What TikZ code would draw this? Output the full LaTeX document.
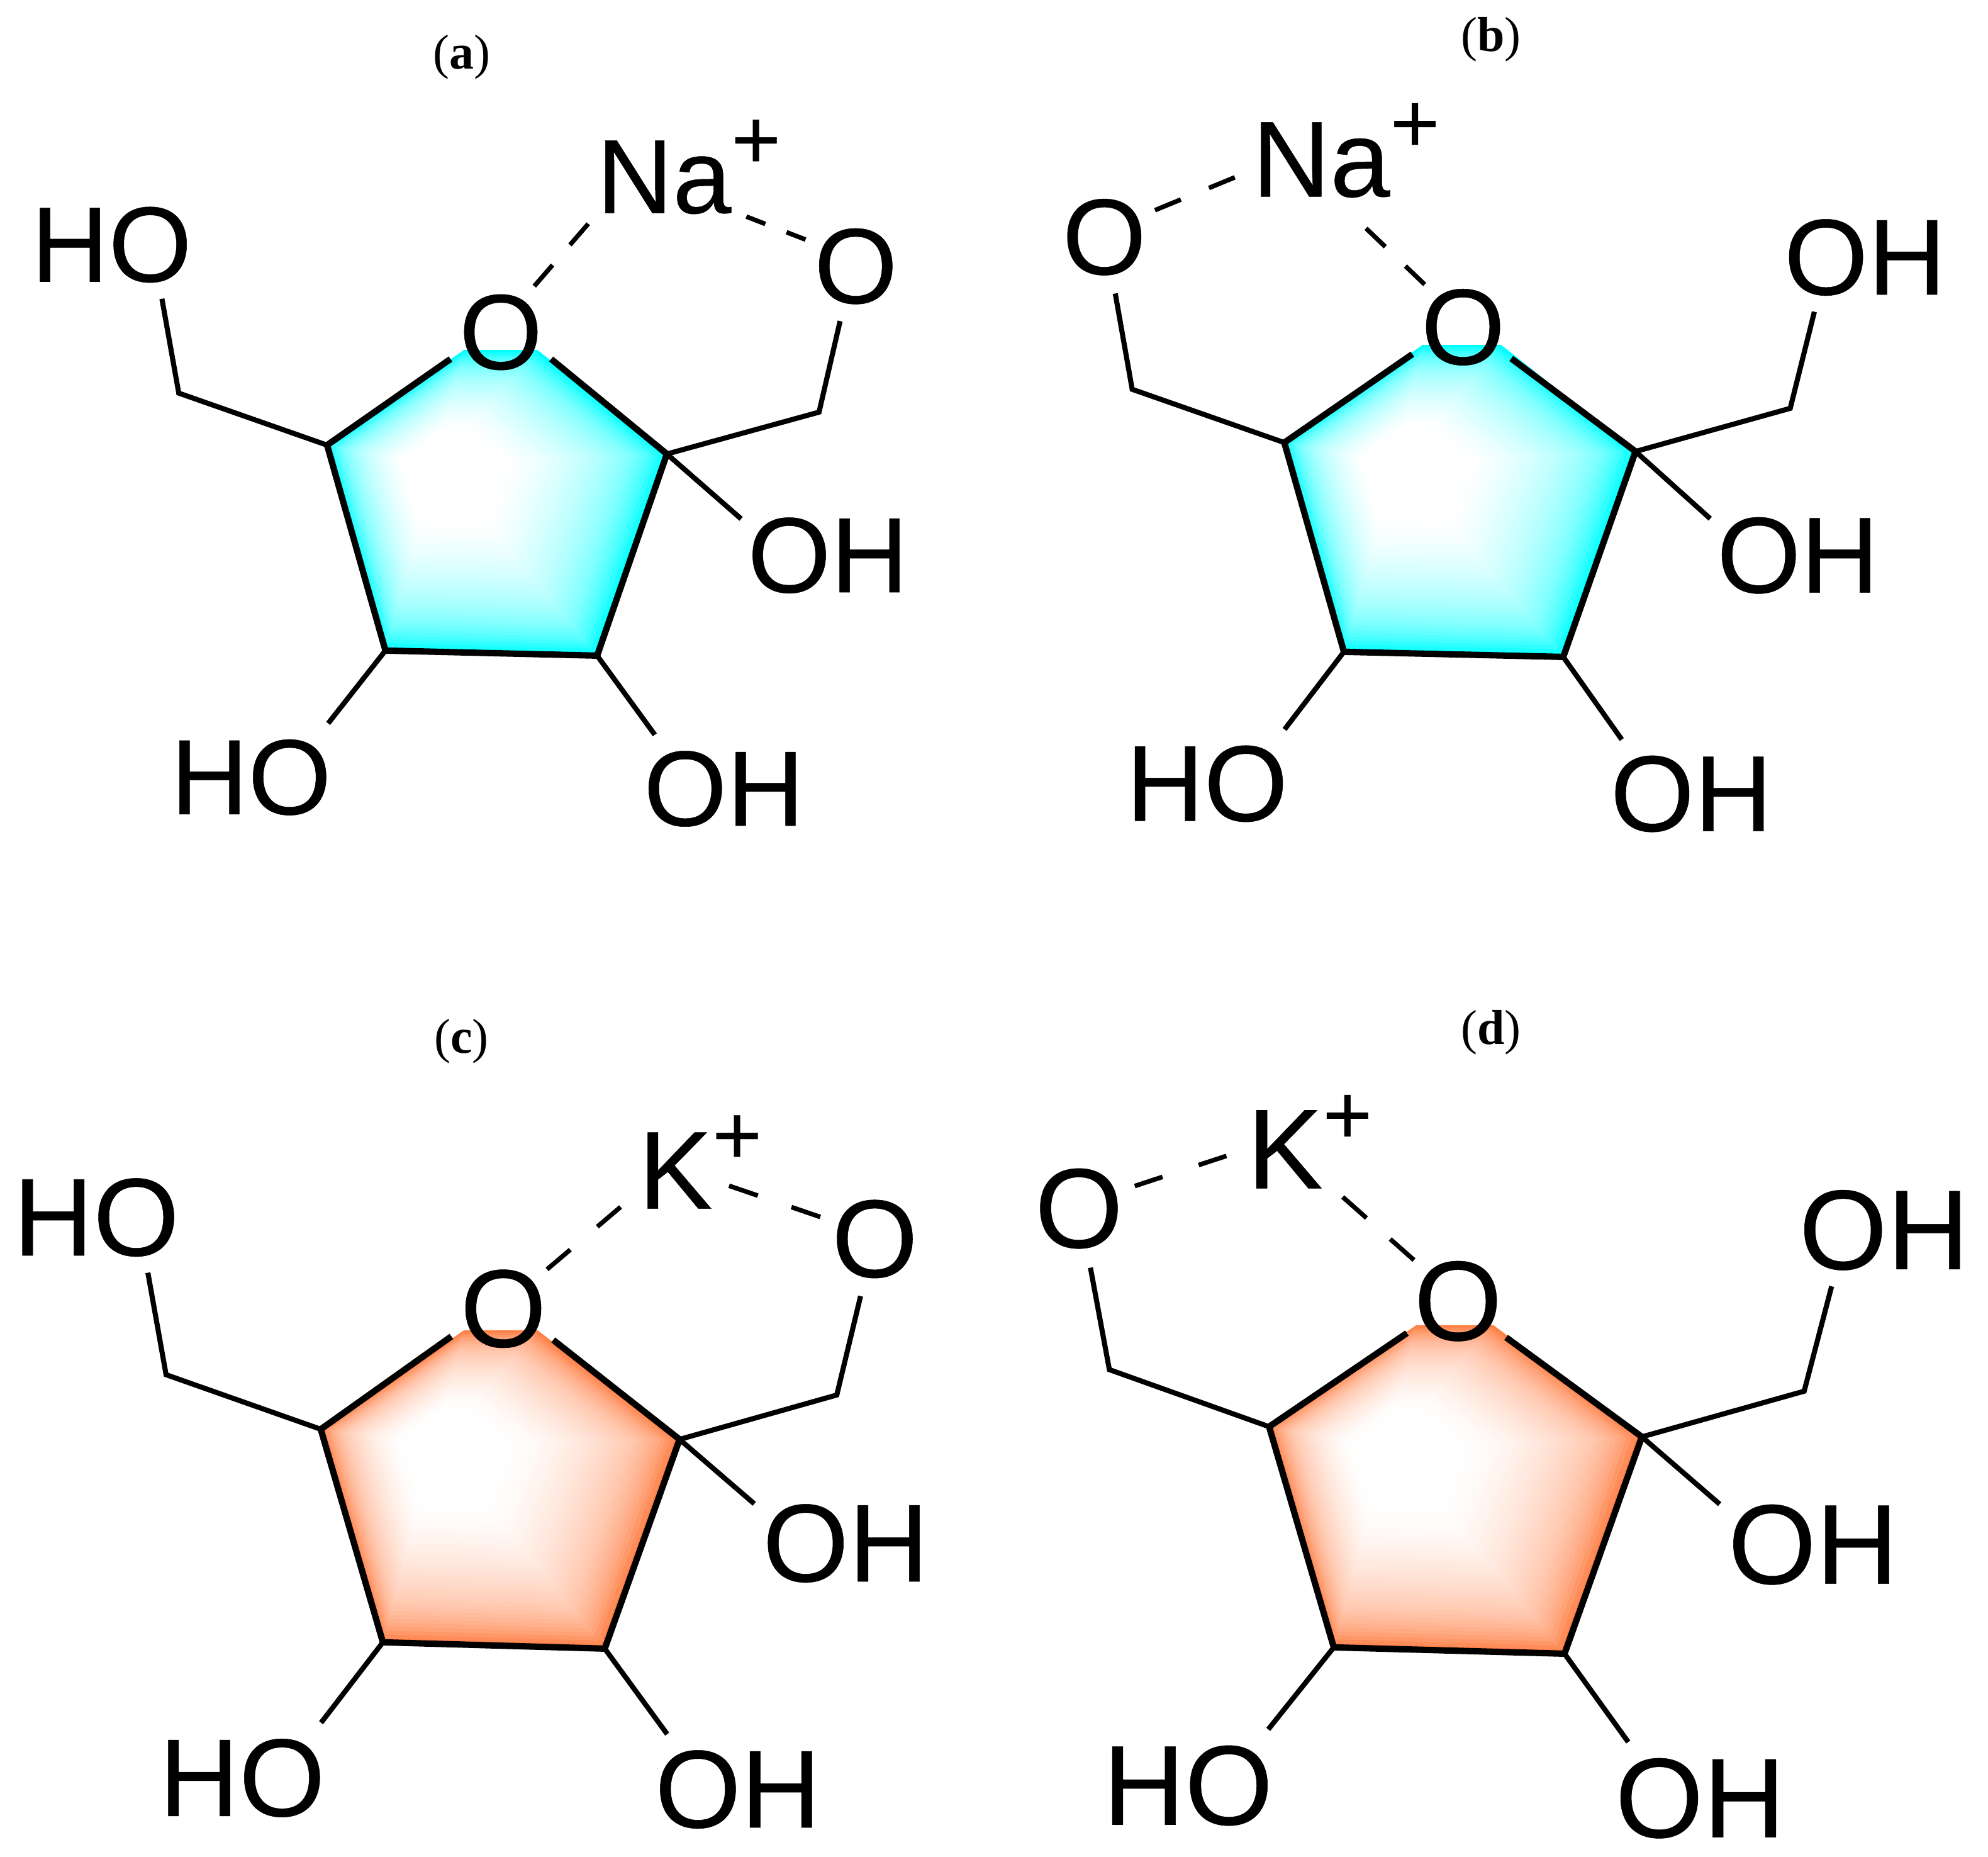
\documentclass[tikz,border=0pt]{standalone}
\usepackage{fontspec}
\setmainfont[FakeBold=.3]{Liberation Sans}
\newfontfamily\capfont{Liberation Serif}
\definecolor{glowcyan}{RGB}{0,255,255}
\definecolor{gloworange}{RGB}{255,128,70}
\newcommand{\ionplus}{\raisebox{.35cm}{\fontsize{19}{19}\selectfont +}}
\newcommand{\ringglow}[4]{
  \foreach \i in {0,...,35}{
    \pgfmathsetmacro{\s}{1-\i*.02}
    \pgfmathsetmacro{\t}{max(1-\i/35,0)}
    \pgfmathsetmacro{\p}{64*\t*\t^.5+36*\t*\t*\t*\t*\t*\t*\t*\t}
    \begin{scope}[shift={(#2,#3)},scale=\s,shift={(-#2,-#3)}]
      \fill[#1!\p!white] #4;
    \end{scope}
  }
}
\tikzset{
  lab/.style={font=\fontsize{#1}{#1}\selectfont,inner sep=.12cm},
  oxy/.style={font=\fontsize{#1}{#1}\selectfont,circle,inner sep=0pt,minimum size=.88cm},
  ion/.style={font=\fontsize{#1}{#1}\selectfont,inner sep=0pt,anchor=base west},
  panelcap/.style={font=\capfont\fontsize{11}{11}\selectfont},
  ringbond/.style={line width=.05cm,line join=miter},
  sidebond/.style={line width=.04cm,line join=miter},
  hbond/.style 2 args={line width=.036cm,dash pattern=on #1cm off #2cm}
}
\begin{document}
\begin{tikzpicture}[x=.01cm,y=-.01cm]
  \useasboundingbox (0,0) rectangle (1568,1464);
  \ringglow{glowcyan}{344}{368}{(258,351) -- (366,276) -- (424,276) -- (526,358) -- (471,517) -- (304,513) -- cycle}
  \ringglow{glowcyan}{1102}{366}{(1013,349) -- (1122,272) -- (1184,272) -- (1290,356) -- (1233,518) -- (1060,514) -- cycle}
  \ringglow{gloworange}{344}{1139}{(253,1127) -- (366,1049) -- (424,1049) -- (536,1135) -- (477,1300) -- (302,1295) -- cycle}
  \ringglow{gloworange}{1095}{1142}{(1001,1125) -- (1117,1045) -- (1178,1045) -- (1295,1133) -- (1234,1304) -- (1052,1299) -- cycle}

  \node[panelcap] (capa) at (364,45) {(\textbf{a})};
  \node[panelcap] (capb) at (1176,31) {(\textbf{b})};
  \node[panelcap] (capc) at (364,821) {(\textbf{c})};
  \node[panelcap] (capd) at (1176,814) {(\textbf{d})};

  \coordinate (a1) at (258,351);
  \coordinate (a2) at (526,358);
  \coordinate (a3) at (471,517);
  \coordinate (a4) at (304,513);
  \coordinate (a5) at (141,310);
  \coordinate (a6) at (646,325);
  \node[oxy=24] (ringa) at (395,262) {O};
  \node[oxy=24] (oa) at (675,210) {O};
  \node[ion=23.6] (naa) at (470,168) {Na\ionplus};
  \node[lab=24] (hoa1) at (88,193) {HO};
  \node[lab=24] (oha2) at (653,438) {OH};
  \node[lab=24] (hoa3) at (198,613) {HO};
  \node[lab=24] (oha4) at (571,622) {OH};
  \draw[ringbond] (ringa.-152) -- (a1) -- (a4) -- (a3) -- (a2) -- (ringa.-28);
  \draw[sidebond] (a1) -- (a5) -- (hoa1.-47);
  \draw[sidebond] (a2) -- (a6) -- (oa.-106);
  \draw[sidebond,shorten >=-.1cm] (a2) -- (oha2.155);
  \draw[sidebond] (a4) -- (hoa3.35);
  \draw[sidebond] (a3) -- (oha4.142);
  \draw[hbond={.22}{.21}] (ringa.54) -- (naa.south west);
  \draw[hbond={.16}{.18}] (oa.152) -- (naa.-42);

  \coordinate (b1) at (1013,349);
  \coordinate (b2) at (1290,356);
  \coordinate (b3) at (1233,518);
  \coordinate (b4) at (1060,514);
  \coordinate (b5) at (893,307);
  \coordinate (b6) at (1412,322);
  \node[oxy=24.2] (ringb) at (1154,258) {O};
  \node[oxy=24.2] (ob) at (871,187) {O};
  \node[ion=24.2] (nab) at (987,155) {Na\ionplus};
  \node[lab=24.2] (ohb1) at (1471,203) {OH};
  \node[lab=24.2] (ohb2) at (1418,438) {OH};
  \node[lab=24.2] (hob3) at (952,618) {HO};
  \node[lab=24.2] (ohb4) at (1334,626) {OH};
  \draw[ringbond] (ringb.-152) -- (b1) -- (b4) -- (b3) -- (b2) -- (ringb.-33);
  \draw[sidebond] (b1) -- (b5) -- (ob.-79);
  \draw[sidebond] (b2) -- (b6) -- (ohb1.-133);
  \draw[sidebond,shorten >=-.1cm] (b2) -- (ohb2.155);
  \draw[sidebond] (b4) -- (hob3.35);
  \draw[sidebond] (b3) -- (ohb4.142);
  \draw[hbond={.22}{.24}] (ob.28) -- (nab.192);
  \draw[hbond={.21}{.22},shorten >=.15cm] (ringb.132) -- (nab.-103);

  \coordinate (c1) at (253,1127);
  \coordinate (c2) at (536,1135);
  \coordinate (c3) at (477,1300);
  \coordinate (c4) at (302,1295);
  \coordinate (c5) at (131,1084);
  \coordinate (c6) at (660,1100);
  \coordinate (kc) at (575,935);
  \node[oxy=24.8] (ringc) at (397,1032) {O};
  \node[oxy=24.8] (oc) at (690,977) {O};
  \node[ion=24.8] (kpc) at (503,953) {K\ionplus};
  \node[lab=24.8] (hoc1) at (76,960) {HO};
  \node[lab=24.8] (ohc2) at (667,1217) {OH};
  \node[lab=24.8] (hoc3) at (191,1402) {HO};
  \node[lab=24.8] (ohc4) at (582,1411) {OH};
  \draw[ringbond] (ringc.-152) -- (c1) -- (c4) -- (c3) -- (c2) -- (ringc.-32);
  \draw[sidebond] (c1) -- (c5) -- (hoc1.-47);
  \draw[sidebond] (c2) -- (c6) -- (oc.-104);
  \draw[sidebond,shorten >=-.08cm] (c2) -- (ohc2.155);
  \draw[sidebond] (c4) -- (hoc3.35);
  \draw[sidebond] (c3) -- (ohc4.142);
  \draw[hbond={.24}{.28}] (ringc.42) -- (kpc.206);
  \draw[hbond={.24}{.28}] (oc.158) -- (kc);

  \coordinate (d1) at (1001,1125);
  \coordinate (d2) at (1295,1133);
  \coordinate (d3) at (1234,1304);
  \coordinate (d4) at (1052,1299);
  \coordinate (d5) at (875,1080);
  \coordinate (d6) at (1423,1097);
  \node[oxy=25.4] (ringd) at (1150,1026) {O};
  \node[oxy=25.4] (od) at (851,953) {O};
  \node[ion=25.4] (kpd) at (983,937) {K\ionplus};
  \node[lab=25.4] (ohd1) at (1486,970) {OH};
  \node[lab=25.4] (ohd2) at (1430,1218) {OH};
  \node[lab=25.4] (hod3) at (937,1408) {HO};
  \node[lab=25.4] (ohd4) at (1341,1418) {OH};
  \draw[ringbond] (ringd.-148) -- (d1) -- (d4) -- (d3) -- (d2) -- (ringd.-37);
  \draw[sidebond] (d1) -- (d5) -- (od.-79);
  \draw[sidebond] (d2) -- (d6) -- (ohd1.-133);
  \draw[sidebond,shorten >=-.08cm] (d2) -- (ohd2.155);
  \draw[sidebond] (d4) -- (hod3.35);
  \draw[sidebond] (d3) -- (ohd4.142);
  \draw[hbond={.23}{.30}] (od.22) -- (kpd.187);
  \draw[hbond={.25}{.25}] (ringd.137) -- (kpd.-63);
\end{tikzpicture}
\end{document}
